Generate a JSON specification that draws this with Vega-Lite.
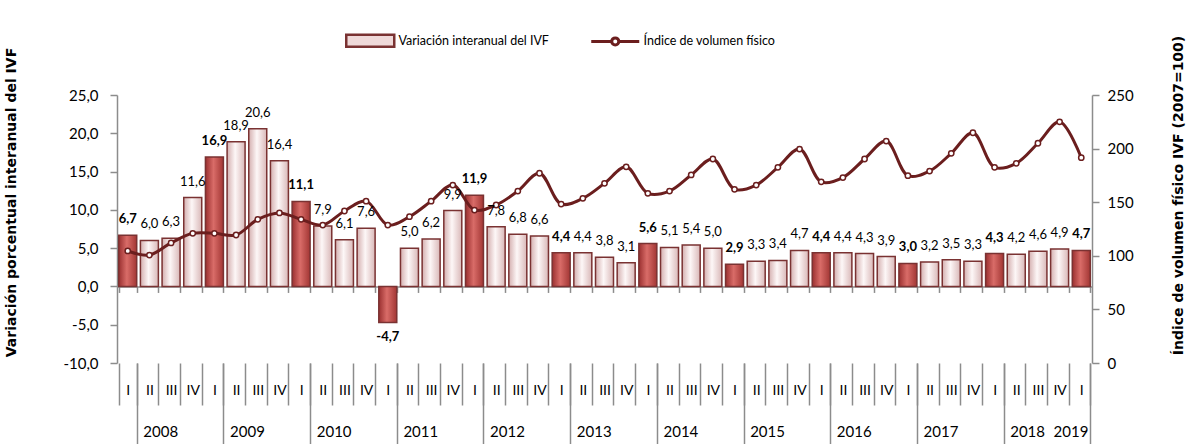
{
  "$schema": "https://vega.github.io/schema/vega-lite/v6.json",
  "width": 975,
  "height": 268,
  "autosize": {"type": "none"},
  "padding": {"left": 117, "top": 95, "right": 100, "bottom": 81},
  "background": "white",
  "config": {
    "locale": {"number": {"decimal": ",", "thousands": ".", "grouping": [3], "currency": ["", ""], "minus": "-"}},
    "view": {"stroke": null},
    "axis": {"labelFont": "Lato", "labelColor": "#000000", "domainColor": "#8c8c8c", "tickColor": "#8c8c8c", "grid": false, "titleColor": "#000000"},
    "legend": {"padding": 0}
  },
  "data": {"values": [
    {"p": "2008 I", "q": "I", "v": 6.7, "ivf": 104.5},
    {"p": "2008 II", "q": "II", "v": 6.0, "ivf": 100.7},
    {"p": "2008 III", "q": "III", "v": 6.3, "ivf": 112},
    {"p": "2008 IV", "q": "IV", "v": 11.6, "ivf": 121},
    {"p": "2009 I", "q": "I", "v": 16.9, "ivf": 121},
    {"p": "2009 II", "q": "II", "v": 18.9, "ivf": 119.4},
    {"p": "2009 III", "q": "III", "v": 20.6, "ivf": 134},
    {"p": "2009 IV", "q": "IV", "v": 16.4, "ivf": 140},
    {"p": "2010 I", "q": "I", "v": 11.1, "ivf": 134},
    {"p": "2010 II", "q": "II", "v": 7.9, "ivf": 128.7},
    {"p": "2010 III", "q": "III", "v": 6.1, "ivf": 141.8},
    {"p": "2010 IV", "q": "IV", "v": 7.6, "ivf": 151},
    {"p": "2011 I", "q": "I", "v": -4.7, "ivf": 128.7},
    {"p": "2011 II", "q": "II", "v": 5.0, "ivf": 136.5},
    {"p": "2011 III", "q": "III", "v": 6.2, "ivf": 151},
    {"p": "2011 IV", "q": "IV", "v": 9.9, "ivf": 166},
    {"p": "2012 I", "q": "I", "v": 11.9, "ivf": 142.7},
    {"p": "2012 II", "q": "II", "v": 7.8, "ivf": 147.4},
    {"p": "2012 III", "q": "III", "v": 6.8, "ivf": 160.4},
    {"p": "2012 IV", "q": "IV", "v": 6.6, "ivf": 177},
    {"p": "2013 I", "q": "I", "v": 4.4, "ivf": 148.3},
    {"p": "2013 II", "q": "II", "v": 4.4, "ivf": 153.6},
    {"p": "2013 III", "q": "III", "v": 3.8, "ivf": 167.6},
    {"p": "2013 IV", "q": "IV", "v": 3.1, "ivf": 183},
    {"p": "2014 I", "q": "I", "v": 5.6, "ivf": 158.3},
    {"p": "2014 II", "q": "II", "v": 5.1, "ivf": 160.4},
    {"p": "2014 III", "q": "III", "v": 5.4, "ivf": 175.4},
    {"p": "2014 IV", "q": "IV", "v": 5.0, "ivf": 190.3},
    {"p": "2015 I", "q": "I", "v": 2.9, "ivf": 162},
    {"p": "2015 II", "q": "II", "v": 3.3, "ivf": 166},
    {"p": "2015 III", "q": "III", "v": 3.4, "ivf": 182.5},
    {"p": "2015 IV", "q": "IV", "v": 4.7, "ivf": 199.6},
    {"p": "2016 I", "q": "I", "v": 4.4, "ivf": 169},
    {"p": "2016 II", "q": "II", "v": 4.4, "ivf": 173},
    {"p": "2016 III", "q": "III", "v": 4.3, "ivf": 190.3},
    {"p": "2016 IV", "q": "IV", "v": 3.9, "ivf": 207},
    {"p": "2017 I", "q": "I", "v": 3.0, "ivf": 174.7},
    {"p": "2017 II", "q": "II", "v": 3.2, "ivf": 179},
    {"p": "2017 III", "q": "III", "v": 3.5, "ivf": 195.6},
    {"p": "2017 IV", "q": "IV", "v": 3.3, "ivf": 214.8},
    {"p": "2018 I", "q": "I", "v": 4.3, "ivf": 182.5},
    {"p": "2018 II", "q": "II", "v": 4.2, "ivf": 186.3},
    {"p": "2018 III", "q": "III", "v": 4.6, "ivf": 205},
    {"p": "2018 IV", "q": "IV", "v": 4.9, "ivf": 225},
    {"p": "2019 I", "q": "I", "v": 4.7, "ivf": 191.5}
  ]},
  "layer": [
    {
      "mark": {"type": "bar", "strokeWidth": 1.5},
      "encoding": {
        "x": {"field": "p", "type": "ordinal", "sort": null,
          "scale": {"paddingInner": 0.17, "paddingOuter": 0.08},
          "axis": {"orient": "bottom", "title": null, "domain": false, "tickBand": "extent", "tickSize": 42, "tickWidth": 1.5, "labelExpr": "split(datum.value, ' ')[1]", "labelAngle": 0, "labelBaseline": "top", "labelPadding": -22, "labelFontSize": 14, "labelOverlap": false, "labelBound": false}},
        "y": {"field": "v", "type": "quantitative",
          "scale": {"domain": [-10, 25], "nice": false, "zero": false},
          "axis": {"orient": "left", "values": [-10, -5, 0, 5, 10, 15, 20, 25], "format": ".1f", "domainWidth": 1.5, "tickWidth": 1.5, "tickSize": 7, "labelPadding": 12, "labelFontSize": 15,
            "title": "Variación porcentual interanual del IVF", "titleFont": "DejaVu Sans", "titleFontWeight": "bold", "titleFontSize": 14, "titleAngle": -90, "titleX": -106, "titleY": 107, "titleBaseline": "middle", "titleAlign": "center"}},
        "fill": {
          "condition": {"test": "datum.q == 'I'", "value": {"gradient": "linear", "x1": 0, "x2": 1, "y1": 0, "y2": 0, "stops": [{"offset": 0, "color": "#9a3030"}, {"offset": 0.45, "color": "#d96c68"}, {"offset": 1, "color": "#a23634"}]}},
          "value": {"gradient": "linear", "x1": 0, "x2": 1, "y1": 0, "y2": 0, "stops": [{"offset": 0, "color": "#d4afaf"}, {"offset": 0.45, "color": "#fdf7f7"}, {"offset": 1, "color": "#d9b8b8"}]}
        },
        "stroke": {"datum": "Variación interanual del IVF",
          "scale": {"domain": ["Variación interanual del IVF", "Índice de volumen físico"], "range": ["#7a3232", "#6b1e1e"]},
          "legend": {"orient": "none", "legendX": 228, "legendY": -61, "direction": "horizontal", "title": null, "symbolSize": 100, "labelFont": "Lato", "labelFontSize": 12.5, "labelColor": "#000000", "labelLimit": 300, "columnPadding": 36, "labelOffset": 41,
            "encode": {"symbols": {"update": {
              "shape": {"signal": "datum.value === 'Índice de volumen físico' ? 'M-1,0H3.1M4.5,0H8.6M3.1,0A0.7,0.7,0,1,1,4.5,0A0.7,0.7,0,1,1,3.1,0' : 'M-1,-1.2H8.6V1.2H-1Z'"},
              "size": {"value": 100},
              "fill": {"signal": "datum.value === 'Índice de volumen físico' ? '#ffffff' : '#efd9d9'"},
              "strokeWidth": {"signal": "datum.value === 'Índice de volumen físico' ? 3 : 2.5"},
              "opacity": {"value": 1},
              "fillOpacity": {"value": 1}
            }}}}
        }
      }
    },
    {
      "mark": {"type": "line", "interpolate": "catmull-rom", "strokeWidth": 3},
      "encoding": {
        "x": {"field": "p", "type": "ordinal", "sort": null,
          "axis": {"orient": "bottom", "title": null, "offset": -76.57, "domain": true, "domainWidth": 1.5, "tickBand": "extent", "tickSize": 6, "tickWidth": 1.5, "labels": false}},
        "y": {"field": "ivf", "type": "quantitative",
          "scale": {"domain": [0, 250], "nice": false, "zero": false},
          "axis": {"orient": "right", "values": [0, 50, 100, 150, 200, 250], "format": "d", "domainWidth": 1.5, "tickWidth": 1.5, "tickSize": 7, "labelPadding": 8, "labelFontSize": 15,
            "title": "Índice de volumen físico IVF (2007=100)", "titleFont": "DejaVu Sans", "titleFontWeight": "bold", "titleFontSize": 14, "titleAngle": -90, "titleX": 86, "titleY": 100, "titleBaseline": "middle", "titleAlign": "center"}},
        "stroke": {"datum": "Índice de volumen físico",
          "legend": {"orient": "none", "legendX": 228, "legendY": -61, "direction": "horizontal", "title": null, "symbolSize": 100, "labelFont": "Lato", "labelFontSize": 12.5, "labelColor": "#000000", "labelLimit": 300, "columnPadding": 36, "labelOffset": 41,
            "encode": {"symbols": {"update": {
              "shape": {"signal": "datum.value === 'Índice de volumen físico' ? 'M-1,0H3.1M4.5,0H8.6M3.1,0A0.7,0.7,0,1,1,4.5,0A0.7,0.7,0,1,1,3.1,0' : 'M-1,-1.2H8.6V1.2H-1Z'"},
              "size": {"value": 100},
              "fill": {"signal": "datum.value === 'Índice de volumen físico' ? '#ffffff' : '#efd9d9'"},
              "strokeWidth": {"signal": "datum.value === 'Índice de volumen físico' ? 3 : 2.5"},
              "opacity": {"value": 1},
              "fillOpacity": {"value": 1}
            }}}}}
      }
    },
    {
      "mark": {"type": "point", "filled": false, "fill": "#ffffff", "fillOpacity": 1, "stroke": "#6b1e1e", "strokeWidth": 1.5, "size": 28, "opacity": 1},
      "encoding": {
        "x": {"field": "p", "type": "ordinal", "sort": null,
          "axis": {"orient": "bottom", "title": null, "domain": false, "tickBand": "extent", "tickSize": 81, "tickWidth": 1.5,
            "tickColor": {"condition": {"test": "split(datum.value, ' ')[1] == 'I'", "value": "#8c8c8c"}, "value": "transparent"},
            "labelExpr": "(split(datum.value, ' ')[1] == 'III' || datum.value == '2019 I') ? split(datum.value, ' ')[0] : ''",
            "labelOffset": -10.8, "labelAngle": 0, "labelBaseline": "top", "labelPadding": -20, "labelFontSize": 15, "labelOverlap": false, "labelBound": false}},
        "y": {"field": "ivf", "type": "quantitative", "scale": {"domain": [0, 250], "nice": false, "zero": false}, "axis": null}
      }
    },
    {
      "mark": {"type": "text", "font": "Lato", "fontSize": 13, "color": "#000000",
        "fontWeight": {"expr": "datum.q == 'I' ? 'bold' : 'normal'"},
        "baseline": {"expr": "datum.v < 0 ? 'top' : 'bottom'"},
        "dy": {"expr": "datum.v < 0 ? 9 : -9"}},
      "encoding": {
        "x": {"field": "p", "type": "ordinal", "sort": null, "axis": null},
        "y": {"field": "v", "type": "quantitative", "scale": {"domain": [-10, 25], "nice": false, "zero": false}, "axis": null},
        "text": {"field": "v", "type": "quantitative", "format": ".1f"}
      }
    }
  ],
  "resolve": {"scale": {"y": "independent"}, "axis": {"x": "independent"}}
}
